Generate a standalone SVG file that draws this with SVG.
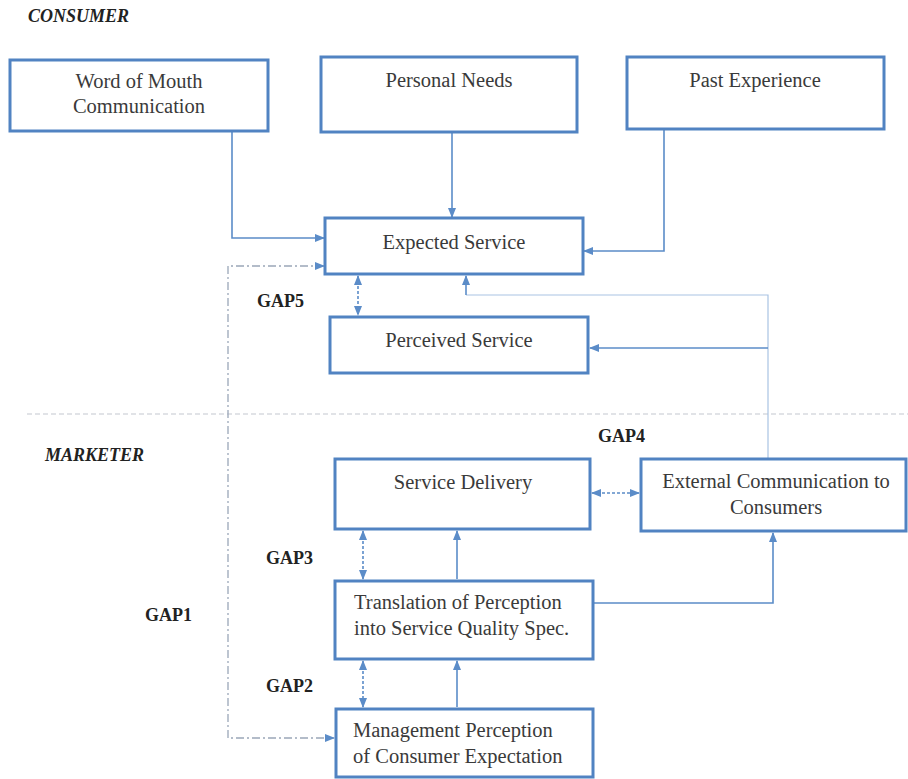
<svg xmlns="http://www.w3.org/2000/svg" width="908" height="779" viewBox="0 0 908 779">
<defs>
<marker id="ah" markerWidth="10" markerHeight="8" refX="9" refY="4" orient="auto-start-reverse" markerUnits="userSpaceOnUse">
<path d="M0,0 L10,4 L0,8 Z" fill="#5b8cc8"/>
</marker>
</defs>
<style>
.box{fill:#fff;stroke:#5183c2;stroke-width:3}
.t{font-family:"Liberation Serif","Times New Roman",serif;font-size:20.5px;fill:#3a3a3a}
.c{text-anchor:middle}
.gap{font-family:"Liberation Serif","Times New Roman",serif;font-size:18px;font-weight:bold;fill:#222}
.sec{font-family:"Liberation Serif","Times New Roman",serif;font-size:18px;font-weight:bold;font-style:italic;fill:#222}
.ln{fill:none;stroke:#5b8cc8;stroke-width:1.6}
.thin{fill:none;stroke:#a9c3e3;stroke-width:1.2}
.dd{fill:none;stroke:#5b8cc8;stroke-width:1.6;stroke-dasharray:3,2}
.dc{fill:none;stroke:#9aa7b8;stroke-width:1.3;stroke-dasharray:8,3,2,3}
</style>
<rect width="908" height="779" fill="#fff"/>
<text class="sec" x="28" y="22">CONSUMER</text>
<text class="sec" x="45" y="461">MARKETER</text>
<line x1="27" y1="414" x2="908" y2="414" stroke="#c4c8cf" stroke-width="1.2" stroke-dasharray="5,3"/>
<g id="connectors">
<path class="ln" d="M232,132 V238 H324" marker-end="url(#ah)"/>
<path class="ln" d="M452,132 V217" marker-end="url(#ah)"/>
<path class="ln" d="M664,130 V251 H584" marker-end="url(#ah)"/>
<path class="dc" d="M324,266 H228 V738 H334" marker-start="url(#ah)" marker-end="url(#ah)"/>
<path class="dd" d="M358,276 V315" marker-start="url(#ah)" marker-end="url(#ah)"/>
<path class="thin" d="M768,458 V295 H466"/>
<path class="ln" d="M466,295 V276" marker-end="url(#ah)"/>
<path class="ln" d="M768,348 H590" marker-end="url(#ah)"/>
<path class="dd" d="M592,493 H639" marker-start="url(#ah)" marker-end="url(#ah)"/>
<path class="dd" d="M363,531 V579" marker-start="url(#ah)" marker-end="url(#ah)"/>
<path class="ln" d="M457,579 V531" marker-end="url(#ah)"/>
<path class="ln" d="M594,603 H773 V533" marker-end="url(#ah)"/>
<path class="dd" d="M363,661 V707" marker-start="url(#ah)" marker-end="url(#ah)"/>
<path class="ln" d="M457,707 V661" marker-end="url(#ah)"/>
</g>
<g id="word-of-mouth"><rect class="box" x="10" y="60" width="258" height="71"/><text class="t c" x="139" y="88">Word of Mouth</text><text class="t c" x="139" y="113">Communication</text></g>
<g id="personal-needs"><rect class="box" x="321" y="57" width="256" height="75"/><text class="t c" x="449" y="87">Personal Needs</text></g>
<g id="past-experience"><rect class="box" x="627" y="57" width="257" height="72"/><text class="t c" x="755" y="87">Past Experience</text></g>
<g id="expected-service"><rect class="box" x="325" y="218" width="258" height="56"/><text class="t c" x="454" y="249">Expected Service</text></g>
<g id="perceived-service"><rect class="box" x="330" y="317" width="258" height="56"/><text class="t c" x="459" y="347">Perceived Service</text></g>
<g id="service-delivery"><rect class="box" x="335" y="459" width="255" height="70"/><text class="t c" x="463" y="489">Service Delivery</text></g>
<g id="external-communication"><rect class="box" x="641" y="459" width="265" height="72"/><text class="t c" x="776" y="488">External Communication to</text><text class="t c" x="776" y="514">Consumers</text></g>
<g id="translation"><rect class="box" x="335" y="581" width="258" height="78"/><text class="t" x="354" y="609">Translation of Perception</text><text class="t" x="354" y="635">into Service Quality Spec.</text></g>
<g id="management"><rect class="box" x="336" y="709" width="257" height="68"/><text class="t" x="353" y="737">Management Perception</text><text class="t" x="353" y="763">of Consumer Expectation</text></g>
<g id="gap-labels">
<text class="gap" x="257" y="307">GAP5</text>
<text class="gap" x="598" y="442">GAP4</text>
<text class="gap" x="266" y="564">GAP3</text>
<text class="gap" x="145" y="621">GAP1</text>
<text class="gap" x="266" y="692">GAP2</text>
</g>
</svg>
